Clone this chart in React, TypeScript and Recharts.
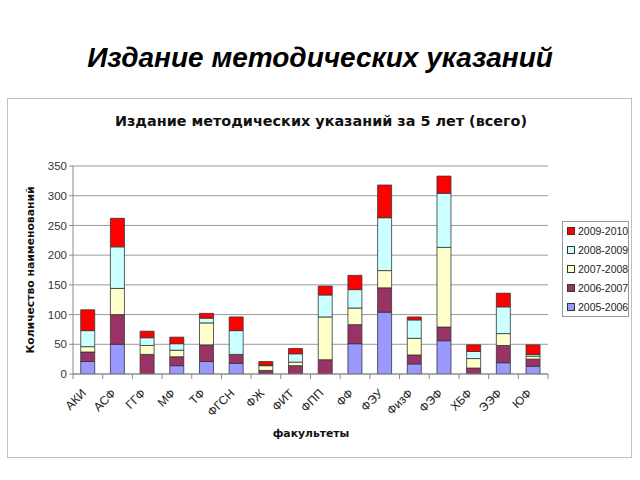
import React from 'react';
import { BarChart, Bar, XAxis, YAxis, CartesianGrid } from 'recharts';

const categories = ['АКИ', 'АСФ', 'ГГФ', 'МФ', 'ТФ', 'ФГСН', 'ФЖ', 'ФИТ', 'ФПП', 'ФФ', 'ФЭУ', 'ФизФ', 'ФЭФ', 'ХБФ', 'ЭЭФ', 'ЮФ'];
const y2005_2006 = [21, 50, 0, 14, 21, 18, 1, 0, 0, 51, 104, 17, 56, 0, 19, 13];
const y2006_2007 = [16, 50, 33, 15, 28, 15, 5, 14, 24, 32, 41, 15, 23, 10, 29, 12];
const y2007_2008 = [9, 44, 15, 11, 37, 0, 8, 6, 72, 28, 29, 28, 134, 16, 20, 5];
const y2008_2009 = [27, 70, 13, 11, 8, 40, 1, 14, 37, 31, 89, 31, 91, 12, 45, 3];
const y2009_2010 = [35, 48, 11, 11, 8, 23, 6, 9, 15, 24, 55, 5, 29, 11, 23, 16];
const seriesNames = ['2005-2006', '2006-2007', '2007-2008', '2008-2009', '2009-2010'];
const yTicks = [0, 50, 100, 150, 200, 250, 300, 350];

const seriesValues = [y2005_2006, y2006_2007, y2007_2008, y2008_2009, y2009_2010];
const colors = ['#9999FF', '#993366', '#FFFFCC', '#CCFFFF', '#FF0000'];

const data = categories.map((c, i) => {
  const row: Record<string, string | number> = { name: c };
  seriesValues.forEach((arr, k) => {
    row['s' + k] = arr[i];
  });
  return row;
});

const W = 640;
const H = 480;
const PLOT_L = 73;
const PLOT_R = 548;
const PLOT_T = 166;
const PLOT_B = 374;
const Y_AXIS_W = 40;
const X_AXIS_H = 60;

const band = (PLOT_R - PLOT_L) / categories.length;

function XTick(props: any) {
  const { x, payload, index } = props;
  const yb = PLOT_B;
  return (
    <g>
      <line x1={x - band / 2} x2={x - band / 2} y1={yb} y2={yb + 5} stroke="#888" strokeWidth={1} />
      {index === categories.length - 1 && (
        <line x1={x + band / 2} x2={x + band / 2} y1={yb} y2={yb + 5} stroke="#888" strokeWidth={1} />
      )}
      <text
        transform={`translate(${x - 1},${yb + 20}) rotate(-45)`}
        textAnchor="end"
        fontSize={12}
        fontFamily="Liberation Sans, Arial, sans-serif"
        fill="#222"
      >
        {payload.value}
      </text>
    </g>
  );
}

function LegendBox() {
  const items = seriesNames.map((n, i) => ({ n, c: colors[i] })).reverse();
  return (
    <div
      style={{
        position: 'absolute',
        left: 562,
        top: 221,
        border: '1px solid #999',
        width: 67,
        height: 96,
        boxSizing: 'border-box',
        padding: '0 0 0 4px',
        background: '#fff',
        fontFamily: 'Liberation Sans, Arial, sans-serif',
        fontSize: 10.5,
        color: '#222',
        whiteSpace: 'nowrap',
        display: 'flex',
        flexDirection: 'column',
        justifyContent: 'center',
      }}
    >
      {items.map((it) => (
        <div key={it.n} style={{ display: 'flex', alignItems: 'center', height: 19.3 }}>
          <span
            style={{
              display: 'inline-block',
              width: 6,
              height: 6,
              background: it.c,
              border: '1px solid #333',
              marginRight: 3,
              flex: 'none',
            }}
          />
          <span>{it.n}</span>
        </div>
      ))}
    </div>
  );
}

export default function App() {
  return (
    <div style={{ position: 'absolute', left: 0, top: 0, width: W, height: H, background: '#fff', overflow: 'hidden' }}>
      <div
        style={{
          position: 'absolute',
          left: 0,
          top: 42,
          width: W,
          textAlign: 'center',
          fontFamily: 'Liberation Sans, Arial, sans-serif',
          fontWeight: 'bold',
          fontStyle: 'italic',
          fontSize: 28,
          color: '#000',
        }}
      >
        Издание методических указаний
      </div>
      <div
        style={{
          position: 'absolute',
          left: 7,
          top: 98,
          width: 625,
          height: 360,
          border: '1.5px solid #c0c0c0',
          boxSizing: 'border-box',
        }}
      />
      <div
        style={{
          position: 'absolute',
          left: 0,
          top: 113,
          width: 642,
          textAlign: 'center',
          fontFamily: 'DejaVu Sans, Verdana, sans-serif',
          fontWeight: 'bold',
          fontSize: 14.4,
          color: '#111',
        }}
      >
        Издание методических указаний за 5 лет (всего)
      </div>
      <div
        style={{
          position: 'absolute',
          left: 30,
          top: 270,
          transform: 'translate(-50%, -50%) rotate(-90deg)',
          whiteSpace: 'nowrap',
          fontFamily: 'DejaVu Sans, Verdana, sans-serif',
          fontWeight: 'bold',
          fontSize: 10.8,
          color: '#111',
        }}
      >
        Количество наименований
      </div>
      <div
        style={{
          position: 'absolute',
          left: 311,
          top: 433,
          transform: 'translate(-50%, -50%)',
          whiteSpace: 'nowrap',
          fontFamily: 'DejaVu Sans, Verdana, sans-serif',
          fontWeight: 'bold',
          fontSize: 10.8,
          color: '#111',
        }}
      >
        факультеты
      </div>
      <div style={{ position: 'absolute', left: 0, top: 0 }}>
        <BarChart
          width={W}
          height={H}
          data={data}
          margin={{ left: PLOT_L - Y_AXIS_W, right: W - PLOT_R, top: PLOT_T, bottom: H - PLOT_B - X_AXIS_H }}
          barCategoryGap="26%"
        >
          <CartesianGrid vertical={false} stroke="#9a9a9a" strokeWidth={1} />
          <XAxis
            dataKey="name"
            interval={0}
            height={X_AXIS_H}
            tickLine={false}
            axisLine={{ stroke: '#888' }}
            tick={<XTick />}
          />
          <YAxis
            width={Y_AXIS_W}
            domain={[0, 350]}
            ticks={yTicks}
            allowDataOverflow
            tickSize={4}
            tickLine={{ stroke: '#888' }}
            axisLine={{ stroke: '#888' }}
            tick={{ fontSize: 11.5, fill: '#333', fontFamily: 'Liberation Sans, Arial, sans-serif' }}
          />
          <YAxis
            yAxisId="right"
            orientation="right"
            width={0}
            tick={false}
            tickLine={false}
            axisLine={{ stroke: '#9a9a9a' }}
            domain={[0, 350]}
          />
          {seriesNames.map((n, k) => (
            <Bar
              key={n}
              dataKey={'s' + k}
              name={n}
              stackId="a"
              fill={colors[k]}
              stroke="#333"
              strokeWidth={0.8}
              isAnimationActive={false}
            />
          ))}
        </BarChart>
      </div>
      <LegendBox />
    </div>
  );
}
